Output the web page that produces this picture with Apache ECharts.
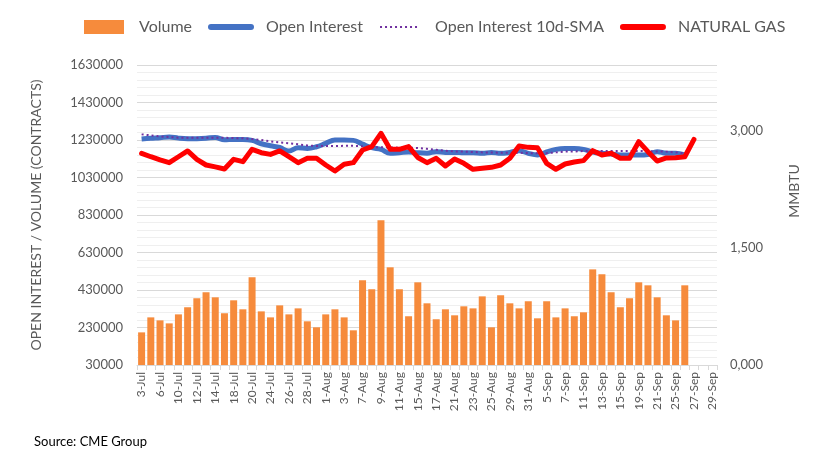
<!DOCTYPE html>
<html><head><meta charset="utf-8">
<script src="https://cdn.jsdelivr.net/npm/echarts@6/dist/echarts.min.js"></script>
<style>html,body{margin:0;padding:0;background:#fff}#c{width:824px;height:462px}</style>
</head><body><div id="c"></div>
<script>
const categories = ['3-Jul','5-Jul','6-Jul','7-Jul','10-Jul','11-Jul','12-Jul','13-Jul','14-Jul','17-Jul','18-Jul','19-Jul','20-Jul','21-Jul','24-Jul','25-Jul','26-Jul','27-Jul','28-Jul','31-Jul','1-Aug','2-Aug','3-Aug','4-Aug','7-Aug','8-Aug','9-Aug','10-Aug','11-Aug','14-Aug','15-Aug','16-Aug','17-Aug','18-Aug','21-Aug','22-Aug','23-Aug','24-Aug','25-Aug','28-Aug','29-Aug','30-Aug','31-Aug','1-Sep','5-Sep','6-Sep','7-Sep','8-Sep','11-Sep','12-Sep','13-Sep','14-Sep','15-Sep','18-Sep','19-Sep','20-Sep','21-Sep','22-Sep','25-Sep','26-Sep','27-Sep','28-Sep','29-Sep'];
const volume = [204000,284000,268000,252000,300000,338000,386000,418000,391000,306000,375000,327000,498000,316000,284000,348000,300000,332000,263000,231000,300000,327000,284000,215000,482000,434000,802000,551000,434000,290000,471000,359000,274000,327000,295000,343000,332000,396000,231000,402000,359000,332000,370000,279000,370000,284000,332000,290000,311000,540000,514000,418000,338000,386000,471000,455000,391000,295000,268000,455000,null,null,null];
const openInterest = [1235000,1239000,1242000,1246000,1240000,1237000,1237000,1239000,1244000,1231000,1233000,1233000,1228000,1210000,1199000,1190000,1171000,1189000,1185000,1194000,1212000,1230000,1230000,1228000,1208000,1189000,1180000,1159000,1162000,1166000,1162000,1160000,1168000,1164000,1164000,1162000,1162000,1159000,1164000,1159000,1164000,1173000,1159000,1150000,1166000,1180000,1185000,1185000,1180000,1166000,1159000,1155000,1150000,1150000,1150000,1153000,1168000,1159000,1159000,1150000];
const oiSma10 = [1260000,1255000,1249000,1246000,1242000,1242000,1242000,1242000,1242000,1242000,1240000,1239000,1235000,1230000,1223000,1217000,1212000,1207000,1201000,1198000,1198000,1198000,1199000,1199000,1196000,1192000,1192000,1190000,1189000,1189000,1187000,1183000,1178000,1173000,1169000,1168000,1166000,1164000,1164000,1162000,1162000,1162000,1160000,1159000,1160000,1164000,1168000,1169000,1171000,1171000,1171000,1171000,1171000,1171000,1171000,1171000,1169000,1168000,1164000,1159000];
const naturalGas = [2.714,2.67,2.63,2.594,2.67,2.744,2.637,2.564,2.54,2.513,2.637,2.607,2.765,2.722,2.70,2.744,2.67,2.594,2.65,2.65,2.564,2.487,2.573,2.594,2.756,2.80,2.97,2.765,2.765,2.80,2.66,2.594,2.65,2.551,2.641,2.585,2.509,2.521,2.534,2.564,2.65,2.808,2.79,2.786,2.585,2.509,2.577,2.603,2.62,2.748,2.692,2.714,2.65,2.65,2.863,2.735,2.615,2.654,2.658,2.67,2.893];
const leftTicks = {min:30000, max:1630000, step:200000};
const rightTicks = {min:0, max:3.846, step:1.5};

const FONT = 'Lato';
const TXT = '#595959';
const chart = echarts.init(document.getElementById('c'));
chart.setOption({
  animation:false,
  textStyle:{fontFamily:FONT},
  title:{text:'Source: CME Group', left:29, top:430, textStyle:{fontFamily:FONT,fontSize:13,fontWeight:'normal',color:'#000'}},
  legend:{
    left:79, top:14, itemWidth:40, itemHeight:14, itemGap:16,
    textStyle:{fontFamily:FONT,fontSize:16,color:TXT,padding:[0,0,0,10]},
    data:[
      {name:'Volume', icon:'rect'},
      {name:'Open Interest', itemStyle:{opacity:0}, lineStyle:{width:6, cap:'round'}},
      {name:'Open Interest 10d-SMA', itemStyle:{opacity:0}, lineStyle:{width:2, type:[2,3]}},
      {name:'NATURAL GAS', itemStyle:{opacity:0}, lineStyle:{width:6, cap:'round'}}
    ]
  },
  grid:{left:137, right:107, top:65, bottom:97},
  xAxis:{
    type:'category', data:categories, boundaryGap:true,
    axisLine:{lineStyle:{color:'#d9d9d9'}},
    axisTick:{show:true, interval:0, length:5, lineStyle:{color:'#d9d9d9'}},
    axisLabel:{interval:1, rotate:90, fontSize:12, color:TXT, margin:7, fontFamily:FONT}
  },
  yAxis:[{
    type:'value', min:leftTicks.min, max:leftTicks.max, interval:leftTicks.step,
    name:'OPEN INTEREST / VOLUME (CONTRACTS)', nameLocation:'middle', nameRotate:90, nameGap:94,
    nameTextStyle:{fontFamily:FONT,fontSize:14,color:TXT},
    axisLine:{show:false}, axisTick:{show:false},
    axisLabel:{fontSize:13,color:TXT,margin:14,fontFamily:FONT, formatter:function(v){return String(Math.round(v));}},
    splitLine:{lineStyle:{color:'#d9d9d9',width:1}},
    minorTick:{show:false, splitNumber:5},
    minorSplitLine:{show:true, lineStyle:{color:'#efefef',width:1}}
  },{
    type:'value', min:rightTicks.min, max:rightTicks.max, interval:rightTicks.step, position:'right',
    name:'MMBTU', nameLocation:'middle', nameRotate:90, nameGap:70,
    nameTextStyle:{fontFamily:FONT,fontSize:14,color:TXT,padding:[0,0,0,48]},
    axisLine:{show:false}, axisTick:{show:false}, splitLine:{show:false},
    axisLabel:{fontSize:13,color:TXT,margin:13,fontFamily:FONT,
      formatter:function(v){ const k=v/1.5; if(Math.abs(k-Math.round(k))>1e-6) return ''; return v.toFixed(3).replace('.',','); }}
  }],
  series:[
    {name:'Volume', type:'bar', data:volume, yAxisIndex:0, barCategoryGap:'24%',
     itemStyle:{color:'#F68B3C'}},
    {name:'Open Interest', type:'line', data:openInterest, yAxisIndex:0, smooth:0.4, symbol:'none',
     lineStyle:{color:'#4472C4', width:5}, itemStyle:{color:'#4472C4'}},
    {name:'Open Interest 10d-SMA', type:'line', data:oiSma10, yAxisIndex:0, symbol:'none',
     lineStyle:{color:'#7030A0', width:2, type:[2,3]}, itemStyle:{color:'#7030A0'}},
    {name:'NATURAL GAS', type:'line', data:naturalGas, yAxisIndex:1, symbol:'none',
     lineStyle:{color:'#FF0000', width:5, join:'round', cap:'round'}, itemStyle:{color:'#FF0000'}}
  ]
});
</script></body></html>
